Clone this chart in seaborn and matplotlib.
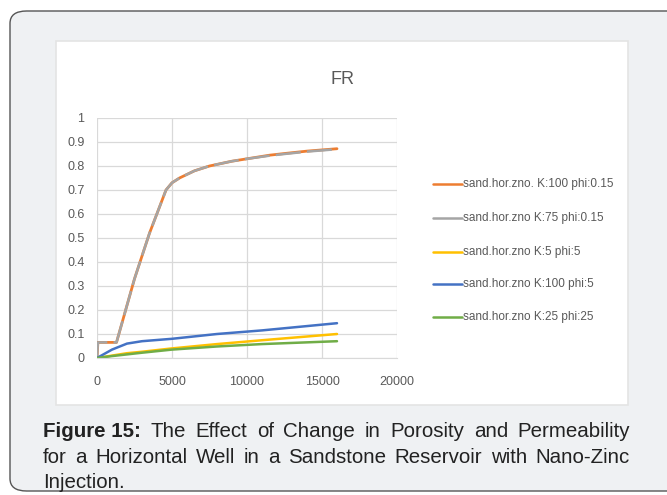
import numpy as np
import pandas as pd
import seaborn as sns
import matplotlib.pyplot as plt
from matplotlib.patches import FancyBboxPatch, Rectangle

# time values and recovery factor
t_high = [0, 60, 1300, 2500, 3500, 4600, 5000, 5500, 6500, 7500, 9000, 10000, 11500, 12500, 14000, 16000]
fr_orange = [0, 0.065, 0.065, 0.33, 0.52, 0.70, 0.73, 0.75, 0.78, 0.80, 0.82, 0.83, 0.845, 0.852, 0.862, 0.872]
fr_gray = [0, 0.065, 0.065, 0.33, 0.52, 0.70, 0.73, 0.75, 0.78, 0.80, 0.82, 0.83, 0.843, 0.85, 0.86, 0.87]

t_low = [0, 1000, 2000, 3000, 5000, 8000, 11000, 13500, 16000]
fr_yellow = [0, 0.01, 0.02, 0.026, 0.04, 0.058, 0.074, 0.087, 0.10]
fr_blue = [0, 0.035, 0.06, 0.07, 0.08, 0.10, 0.115, 0.13, 0.145]
fr_green = [0, 0.008, 0.015, 0.022, 0.035, 0.048, 0.058, 0.064, 0.07]

labels = ["sand.hor.zno. K:100 phi:0.15", "sand.hor.zno K:75 phi:0.15",
          "sand.hor.zno K:5 phi:5", "sand.hor.zno K:100 phi:5",
          "sand.hor.zno K:25 phi:25"]
colors = ["#ED7D31", "#A5A5A5", "#FFC000", "#4472C4", "#70AD47"]

caption_lines = [
    ["Figure 15:", "The", "Effect", "of", "Change", "in", "Porosity", "and", "Permeability"],
    ["for", "a", "Horizontal", "Well", "in", "a", "Sandstone", "Reservoir", "with", "Nano-Zinc"],
    ["Injection."],
]

sns.set_style("white")
plt.rcParams['font.family'] = ['Liberation Sans Narrow', 'Liberation Sans', 'DejaVu Sans']

fig = plt.figure(figsize=(6.67, 4.95), dpi=100)
fig.patch.set_facecolor("white")

# card with rounded corner
card = FancyBboxPatch((10 / 667, 4 / 495), 700 / 667, 480 / 495,
                      boxstyle="round,pad=0,rounding_size=0.025",
                      transform=fig.transFigure, facecolor="#eff1f3",
                      edgecolor="#555555", linewidth=1.0, zorder=-3)
fig.patches.append(card)
panel = Rectangle((56 / 667, 1 - 405 / 495), 572 / 667, 364 / 495,
                  transform=fig.transFigure, facecolor="white",
                  edgecolor="#e4e4e4", linewidth=1.2, zorder=-2)
fig.patches.append(panel)

ax = fig.add_axes([97 / 667, 1 - 358 / 495, 300 / 667, 240 / 495])
ax.set_facecolor("white")

df = pd.concat([
    pd.DataFrame({"t": t_high, "FR": fr_orange, "s": labels[0]}),
    pd.DataFrame({"t": t_high, "FR": fr_gray, "s": labels[1]}),
    pd.DataFrame({"t": t_low, "FR": fr_yellow, "s": labels[2]}),
    pd.DataFrame({"t": t_low, "FR": fr_blue, "s": labels[3]}),
    pd.DataFrame({"t": t_low, "FR": fr_green, "s": labels[4]}),
])

sns.lineplot(data=df, x="t", y="FR", hue="s", hue_order=labels,
             palette=colors, linewidth=1.8, ax=ax, sort=False, legend=False)
ax.lines[0].set_linewidth(2.0)
ax.lines[1].set_linestyle((0, (10, 2.5)))
ax.lines[1].set_linewidth(1.8)

ax.set_xlim(0, 20000)
ax.set_ylim(0, 1)
ax.set_xticks(np.arange(0, 20001, 5000))
ax.set_yticks(np.round(np.arange(0, 1.01, 0.1), 1))
ax.set_yticklabels(["0", "0.1", "0.2", "0.3", "0.4", "0.5", "0.6", "0.7", "0.8", "0.9", "1"])
ax.grid(True, color="#d9d9d9", linewidth=0.9)
for sp in ax.spines.values():
    sp.set_visible(False)
ax.spines["bottom"].set_visible(True)
ax.spines["bottom"].set_color("#d9d9d9")
ax.tick_params(axis="both", colors="#595959", labelsize=9, length=0)
ax.tick_params(axis="y", pad=9)
ax.tick_params(axis="x", pad=13)
ax.set_xlabel("")
ax.set_ylabel("")

fig.text(343 / 667, 1 - 79 / 495, "FR", ha="center", va="center",
         fontsize=13, color="#595959")

# legend drawn by hand to keep the spacing of the original
leg_y = [184, 218, 252, 284, 317]
for lab, col, y in zip(labels, colors, leg_y):
    fig.lines.append(plt.Line2D([433 / 667, 462 / 667], [1 - y / 495, 1 - y / 495],
                                transform=fig.transFigure, color=col, linewidth=1.8))
    fig.text(463 / 667, 1 - y / 495, lab, ha="left", va="center",
             fontsize=8.5, color="#595959")

# justified caption
cap_font = ['Liberation Sans', 'DejaVu Sans']
renderer = fig.canvas.get_renderer()
x0, x1 = 43, 630
cap_base = [437, 463, 488]
for li, (words, y) in enumerate(zip(caption_lines, cap_base)):
    texts = []
    for wi, w in enumerate(words):
        bold = (li == 0 and wi == 0)
        t = fig.text(0, 1 - y / 495, w, ha="left", va="baseline", fontsize=14.8,
                     fontweight="bold" if bold else "normal", color="#222222",
                     family=cap_font)
        texts.append(t)
    widths = [t.get_window_extent(renderer).width for t in texts]
    if li < len(caption_lines) - 1 and len(words) > 1:
        gap = (x1 - x0 - sum(widths)) / (len(words) - 1)
    else:
        gap = 5
    x = x0
    for t, w in zip(texts, widths):
        t.set_x(x / 667)
        x += w + gap

fig.savefig("out.png", dpi=100, facecolor=fig.get_facecolor())
